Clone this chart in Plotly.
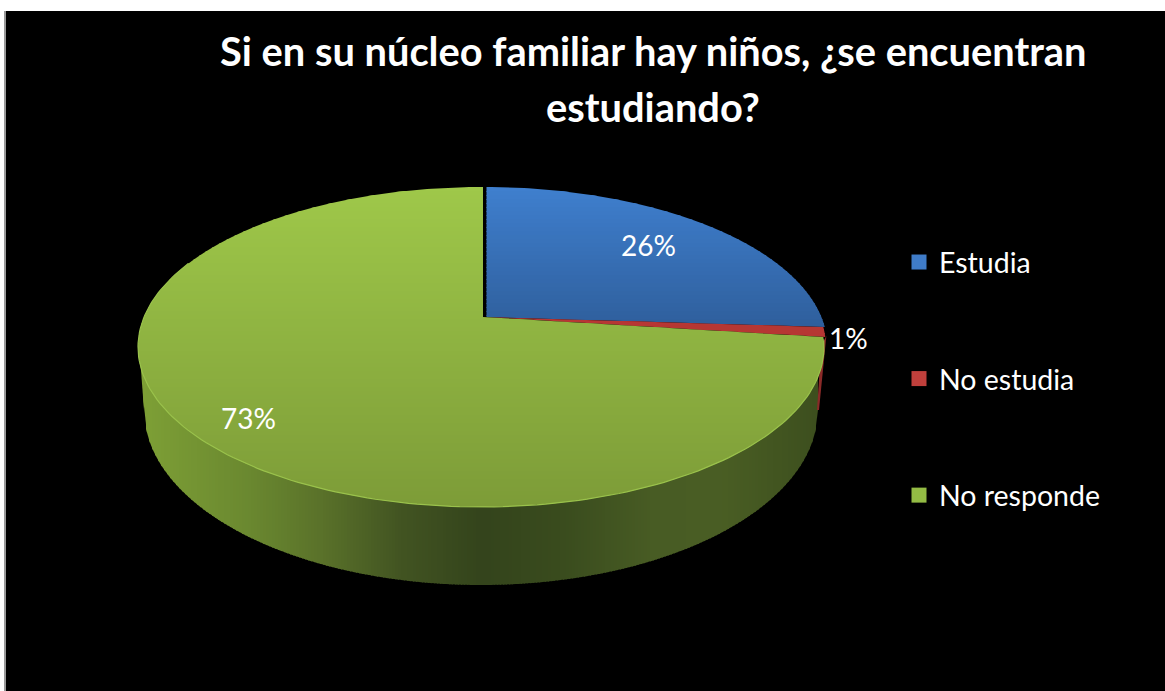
import math
import numpy as np
import plotly.graph_objects as go

# ---- data ----
categories = ["Estudia", "No estudia", "No responde"]
values = [26, 1, 73]
title_lines = ["Si en su núcleo familiar hay niños, ¿se encuentran", "estudiando?"]

# ---- style ----
legend_colors = ["#3F7CC8", "#C0403C", "#93BB44"]
top_grad = [("#3F7FCE", "#2F5F9C"), ("#C23B37", "#A83230"), ("#9FC84A", "#7D9C38")]
wall_x = [140, 250, 320, 400, 480, 560, 650, 720, 825]
wall_rgb = [(126, 160, 54), (106, 136, 48), (90, 114, 42), (66, 84, 34), (52, 68, 28),
            (58, 76, 30), (72, 92, 36), (74, 94, 36), (60, 78, 30)]
label_xy = [(648, 245), (848, 338), (248, 418)]
title_xy = [(653, 50), (653, 106)]
W, H = 1165, 691
AP = (484.0, 317.0)            # apex of the pie top
CX, CY, RX, RY = 482.0, 347.0, 343.0, 160.0   # upper rim
BX, BY, BRX, BRY = 481.0, 410.0, 337.0, 175.0  # lower rim
offsets = [(2.5, 0), (1, 0), (-1, 0)]


def rim_point(theta):
    """Point of the upper rim reached from the apex at pie angle theta (clockwise from 12 o'clock)."""
    dx, dy = RX * math.sin(theta), -RY * math.cos(theta)
    ox, oy = AP[0] - CX, AP[1] - CY
    a = (dx / RX) ** 2 + (dy / RY) ** 2
    b = 2 * (ox * dx / RX**2 + oy * dy / RY**2)
    c = (ox / RX) ** 2 + (oy / RY) ** 2 - 1
    t = (-b + math.sqrt(b * b - 4 * a * c)) / (2 * a)
    return AP[0] + t * dx, AP[1] + t * dy


def sector(a0, a1, off):
    n = max(4, int((a1 - a0) * 60))
    pts = [(AP[0], AP[1])] + [rim_point(a) for a in np.linspace(a0, a1, n)]
    return [(x + off[0], y + off[1]) for x, y in pts]


def clip(poly, y0, y1):
    def half(p, keep, isect):
        out = []
        for i in range(len(p)):
            a, b = p[i], p[(i + 1) % len(p)]
            if keep(a):
                out.append(a)
            if keep(a) != keep(b):
                out.append(isect(a, b))
        return out

    def cut(yc):
        def f(a, b):
            t = (yc - a[1]) / (b[1] - a[1])
            return (a[0] + t * (b[0] - a[0]), yc)
        return f
    p = half(poly, lambda q: q[1] >= y0, cut(y0))
    if p:
        p = half(p, lambda q: q[1] <= y1, cut(y1))
    return p


def h2r(h):
    return tuple(int(h[i:i + 2], 16) for i in (1, 3, 5))


def poly_trace(pts, color):
    xs = [p[0] for p in pts] + [pts[0][0]]
    ys = [p[1] for p in pts] + [pts[0][1]]
    return go.Scatter(x=xs, y=ys, mode="lines", fill="toself", fillcolor=color,
                      line=dict(width=0), hoverinfo="skip", showlegend=False)


fig = go.Figure()


def upper(x):
    return CY + RY * math.sqrt(max(0, 1 - ((x - CX) / RX) ** 2))


def lower(x):
    if x <= BX - BRX:   # short, nearly straight edge left of the lower rim
        return upper(CX - RX) + (BY - upper(CX - RX)) * (x - (CX - RX)) / (RX - BRX + BX - CX)
    if x >= BX + BRX:
        return BY
    return BY + BRY * math.sqrt(max(0, 1 - ((x - BX) / BRX) ** 2))


# side wall, in narrow vertical strips
step = 3
xs_wall = list(range(140, 818, step))
wr = [np.interp(xs_wall, wall_x, [c[i] for c in wall_rgb]) for i in range(3)]
for k, x in enumerate(xs_wall):
    x1 = min(x + step + 1, 818)
    col = "rgb(%d,%d,%d)" % (wr[0][k], wr[1][k], wr[2][k])
    ptsu = [(xx, upper(xx) - 2) for xx in (x, x1)]
    ptsl = [(xx, lower(xx)) for xx in (x1, x)]
    fig.add_trace(poly_trace(ptsu + ptsl, col))

# red strip of the wall
cum = np.cumsum([0] + values) / sum(values) * 2 * math.pi
rp = rim_point(cum[2])
fig.add_trace(poly_trace([(rp[0] + 2, rp[1] - 1), (rp[0] - 1, rp[1] + 30),
                          (BX + BRX + 1, BY), (BX + BRX - 1, BY), (rp[0] - 3, rp[1] + 8)], "#8A2A28"))

# top faces with vertical gradient
for i, (a0, a1) in enumerate(zip(cum[:-1], cum[1:])):
    poly = sector(a0, a1, offsets[i])
    ys = [p[1] for p in poly]
    c0, c1 = map(h2r, top_grad[i])
    for y in range(int(min(ys)), int(max(ys)) + 1, 4):
        band = clip(poly, y, y + 5)
        if len(band) >= 3:
            t = (y - 187) / 320 if i != 0 else (y - 187) / 140
            t = min(max(t, 0), 1)
            col = "rgb(%d,%d,%d)" % tuple(c0[j] + t * (c1[j] - c0[j]) for j in range(3))
            fig.add_trace(poly_trace(band, col))

# light edge along the front of the rim
rim_angles = np.linspace(cum[2] + 0.02, 2 * math.pi - 1.2, 160)
rx = [rim_point(a)[0] - 1 for a in rim_angles]
ry = [rim_point(a)[1] for a in rim_angles]
fig.add_trace(go.Scatter(x=rx, y=ry, mode="lines", line=dict(color="#9AC24C", width=1.2),
                         hoverinfo="skip", showlegend=False))

# legend entries
for i, name in enumerate(categories):
    fig.add_trace(go.Scatter(x=[None], y=[None], mode="markers", name=name, legendgroup=name,
                             marker=dict(symbol="square", size=15, color=legend_colors[i])))

annotations = [dict(x=lx, y=ly, xref="x", yref="y", text=f"{v}%", showarrow=False,
                    font=dict(family="Lato", size=28, color="white"))
               for (lx, ly), v in zip(label_xy, values)]
annotations += [dict(x=tx, y=ty, xref="x", yref="y", text=line, showarrow=False,
                     font=dict(family="Lato", size=39.8, color="white", weight="bold"))
                for (tx, ty), line in zip(title_xy, title_lines)]

fig.update_layout(
    width=W, height=H, margin=dict(l=0, r=0, t=0, b=0), autosize=False,
    paper_bgcolor="white", plot_bgcolor="white",
    xaxis=dict(range=[0, W], visible=False, fixedrange=True),
    yaxis=dict(range=[H, 0], visible=False, fixedrange=True),
    shapes=[dict(type="rect", xref="x", yref="y", x0=6, x1=W, y0=11, y1=H, fillcolor="black",
                 line=dict(width=0), layer="below"),
            dict(type="rect", xref="x", yref="y", x0=4, x1=6, y0=11, y1=H, fillcolor="#999999",
                 line=dict(width=0), layer="below")],
    annotations=annotations,
    showlegend=True,
    legend=dict(x=899 / W, y=1 - 237 / H, xanchor="left", yanchor="top", bgcolor="rgba(0,0,0,0)",
                font=dict(family="Lato", size=28.5, color="white"), tracegroupgap=76.5,
                itemsizing="trace", traceorder="grouped", itemwidth=30),
)
fig.write_html("out.html", config=dict(displayModeBar=False),
               post_script="document.body.style.margin='0';document.body.style.overflow='hidden';")
